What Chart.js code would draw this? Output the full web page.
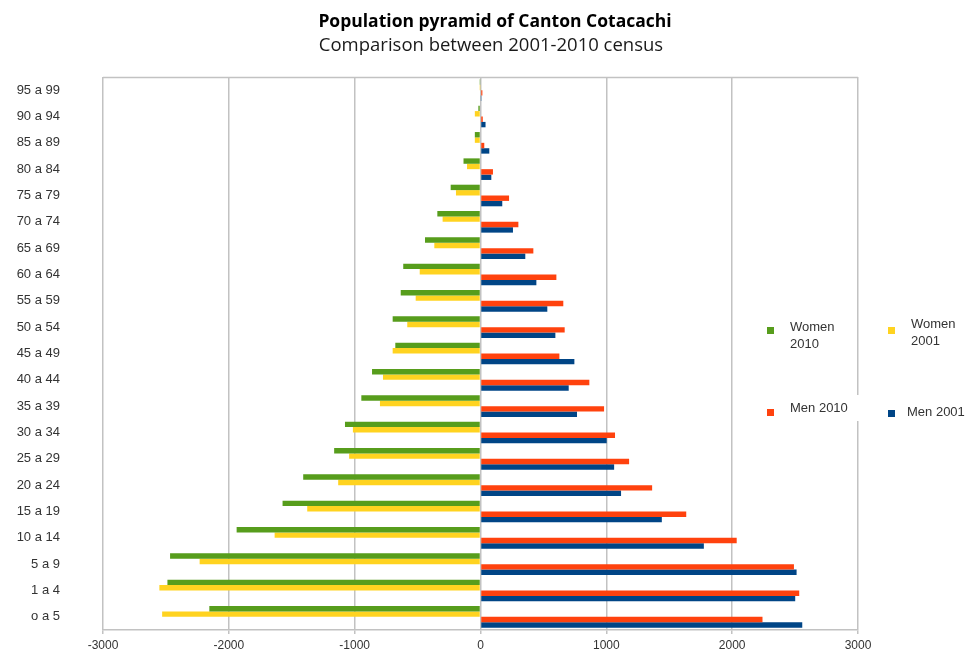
<!DOCTYPE html>
<html>
<head>
<meta charset="utf-8">
<script src="https://cdn.jsdelivr.net/npm/chart.js@4.4.0/dist/chart.umd.min.js"></script>
<style>
    html, body { margin: 0; padding: 0; background: #fff; }
</style>
</head>
<body>
<canvas id="myChart" width="968" height="652"></canvas>
<script>
// age groups, listed top to bottom as in the picture
const ageGroups = ['95 a 99', '90 a 94', '85 a 89', '80 a 84', '75 a 79', '70 a 74', '65 a 69',
    '60 a 64', '55 a 59', '50 a 54', '45 a 49', '40 a 44', '35 a 39', '30 a 34', '25 a 29',
    '20 a 24', '15 a 19', '10 a 14', '5 a 9', '1 a 4', 'o a 5'];

const women2010 = [-3, -17, -45, -135, -237, -343, -441, -614, -634, -698, -677, -862, -947,
    -1077, -1163, -1409, -1573, -1938, -2467, -2488, -2155];
const women2001 = [-2, -45, -45, -107, -195, -301, -367, -483, -515, -582, -698, -775, -799,
    -1014, -1044, -1131, -1377, -1636, -2232, -2552, -2530];
const men2010 = [15, 18, 30, 99, 227, 301, 420, 603, 658, 669, 627, 865, 982,
    1069, 1181, 1364, 1635, 2036, 2491, 2533, 2241];
const men2001 = [3, 40, 70, 86, 173, 258, 356, 444, 531, 595, 746, 701, 767,
    1003, 1062, 1117, 1441, 1775, 2512, 2501, 2557];

const xMin = -3000;
const xMax = 3000;
const xStep = 1000;

const gridColor = '#c2c2c2';
const textColor = '#333333';

const decor = {
    id: 'decor',
    beforeDatasetsDraw(chart) {
        const { ctx, chartArea } = chart;
        ctx.save();
        ctx.strokeStyle = gridColor;
        ctx.lineWidth = 1.5;
        ctx.beginPath();
        ctx.moveTo(chartArea.left, chartArea.top + 0.5);
        ctx.lineTo(chartArea.right, chartArea.top + 0.5);
        ctx.stroke();
        ctx.restore();
    },
    afterDraw(chart) {
        const ctx = chart.ctx;
        ctx.save();

        // titles
        ctx.textAlign = 'center';
        ctx.textBaseline = 'middle';
        ctx.fillStyle = '#000';
        ctx.font = 'bold 17.5px "Open Sans"';
        ctx.fillText('Population pyramid of Canton Cotacachi', 495, 22);
        ctx.fillStyle = '#1a1a1a';
        ctx.font = '18.5px "Open Sans"';
        ctx.fillText('Comparison between 2001-2010 census', 491, 46);

        // legend, laid out in a loose 2x2 grid like the original
        const spots = [
            { box: [767, 327], tx: 790, ty: 327, wrap: true },
            { box: [888, 327], tx: 911, ty: 324, wrap: true },
            { box: [767, 409], tx: 790, ty: 408, wrap: false },
            { box: [888, 410], tx: 907, ty: 412, wrap: false },
        ];
        ctx.fillStyle = '#fff';
        ctx.fillRect(786, 395, 78, 26);

        ctx.font = '13px "Liberation Sans"';
        ctx.textAlign = 'left';
        chart.data.datasets.forEach((ds, i) => {
            const s = spots[i];
            ctx.fillStyle = ds.backgroundColor;
            ctx.fillRect(s.box[0], s.box[1], 7, 7);
            ctx.fillStyle = textColor;
            const lines = s.wrap ? ds.label.split(' ') : [ds.label];
            lines.forEach((t, k) => ctx.fillText(t, s.tx, s.ty + k * 17));
        });
        ctx.restore();
    }
};

const ctx = document.getElementById('myChart').getContext('2d');

const config = {
    type: 'bar',
    data: {
        labels: ageGroups,
        datasets: [
            { label: 'Women 2010', data: women2010, backgroundColor: '#579d1c' },
            { label: 'Women 2001', data: women2001, backgroundColor: '#ffd320' },
            { label: 'Men 2010', data: men2010, backgroundColor: '#ff420e' },
            { label: 'Men 2001', data: men2001, backgroundColor: '#004586' },
        ],
    },
    options: {
        indexAxis: 'y',
        responsive: false,
        animation: false,
        categoryPercentage: 0.82,
        barPercentage: 1.0,
        layout: {
            autoPadding: false,
            padding: { top: 77, left: 0, right: 110, bottom: 0 }
        },
        plugins: {
            legend: { display: false },
            title: { display: false },
            tooltip: { enabled: false },
        },
        scales: {
            x: {
                type: 'linear',
                min: xMin,
                max: xMax,
                ticks: {
                    stepSize: xStep,
                    color: textColor,
                    font: { family: 'Liberation Sans', size: 12 },
                    padding: 4,
                    callback: (v) => String(v),
                },
                grid: {
                    color: gridColor,
                    lineWidth: 1.5,
                    tickLength: 4,
                },
                border: { color: gridColor, width: 1.5 },
                afterFit(scale) { scale.height = 22 },
            },
            y: {
                ticks: {
                    color: textColor,
                    font: { family: 'Liberation Sans', size: 13 },
                    padding: 43,
                    autoSkip: false,
                },
                grid: { display: false, drawTicks: false },
                border: { display: false },
                afterFit(scale) {
                    scale.width = 103;
                    // the wide label gap should not eat into the plot height
                    scale.paddingTop = 0;
                    scale.paddingBottom = 0;
                },
            },
        },
    },
    plugins: [decor],
};

new Chart(ctx, config);
</script>
</body>
</html>
